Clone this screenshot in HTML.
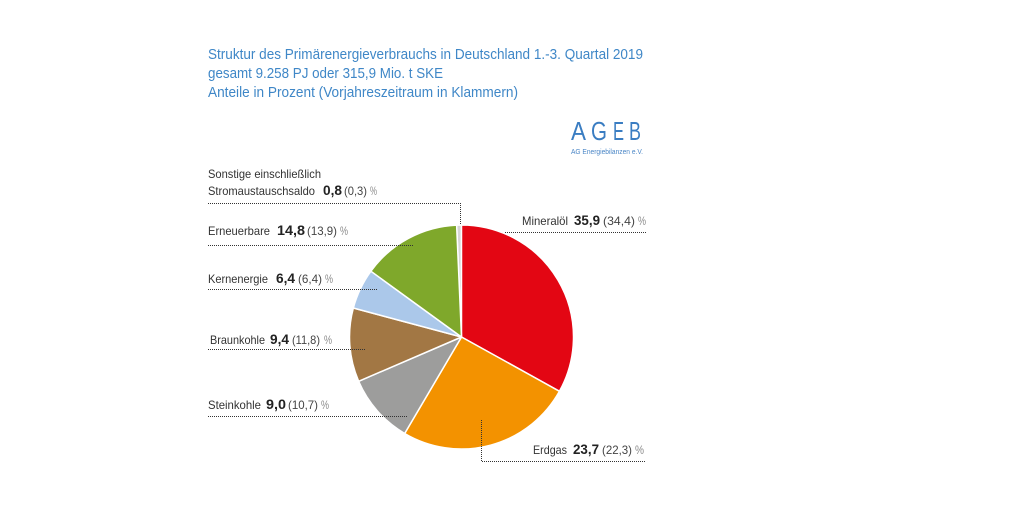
<!DOCTYPE html>
<html><head><meta charset="utf-8"><style>
html,body{margin:0;padding:0;background:#fff;}
svg{display:block;}
text{font-family:"Liberation Sans",sans-serif;}
.t{font-size:14.5px;fill:#3f87c7;}
.l{font-size:12px;fill:#333;}
.b{font-size:14px;font-weight:bold;fill:#222;}
.p{font-size:12px;fill:#444;}
.pc{font-size:12px;fill:#8a8a8a;}
.d{stroke:#333;stroke-width:1;stroke-dasharray:1 1;fill:none;}
.g{font-size:26px;fill:#3a7dc2;}
</style></head><body>
<svg width="1024" height="512" viewBox="0 0 1024 512" xmlns="http://www.w3.org/2000/svg">
<rect width="1024" height="512" fill="#fff"/>
<!-- titles -->
<text class="t" x="208" y="59" textLength="435" lengthAdjust="spacingAndGlyphs">Struktur des Primärenergieverbrauchs in Deutschland 1.-3. Quartal 2019</text>
<text class="t" x="208" y="78" textLength="235" lengthAdjust="spacingAndGlyphs">gesamt 9.258 PJ oder 315,9 Mio. t SKE</text>
<text class="t" x="208" y="97" textLength="310" lengthAdjust="spacingAndGlyphs">Anteile in Prozent (Vorjahreszeitraum in Klammern)</text>
<!-- logo -->
<text class="g" x="571" y="140" textLength="15" lengthAdjust="spacingAndGlyphs">A</text>
<text class="g" x="591" y="140" textLength="16" lengthAdjust="spacingAndGlyphs">G</text>
<text class="g" x="613" y="140" textLength="11" lengthAdjust="spacingAndGlyphs">E</text>
<text class="g" x="629" y="140" textLength="12" lengthAdjust="spacingAndGlyphs">B</text>
<text x="571" y="154" font-size="7" fill="#4a86c6" textLength="72" lengthAdjust="spacingAndGlyphs">AG Energiebilanzen e.V.</text>
<!-- pie -->
<g stroke="#fff" stroke-width="1.5" stroke-linejoin="round">
<path d="M461.5,337 L456.62,225.11 A112,112 0 0 1 461.5,225 Z" fill="#d6d6d6"/>
<path d="M461.5,337 L461.5,225 A112,112 0 0 1 559.46,391.3 Z" fill="#e30613"/>
<path d="M461.5,337 L559.46,391.3 A112,112 0 0 1 404.66,433.5 Z" fill="#f39200"/>
<path d="M461.5,337 L404.66,433.5 A112,112 0 0 1 358.64,381.3 Z" fill="#9d9d9c"/>
<path d="M461.5,337 L358.64,381.3 A112,112 0 0 1 353.32,308.01 Z" fill="#a27744"/>
<path d="M461.5,337 L353.32,308.01 A112,112 0 0 1 370.89,271.17 Z" fill="#abc8ea"/>
<path d="M461.5,337 L370.89,271.17 A112,112 0 0 1 456.62,225.11 Z" fill="#7fa82b"/>
</g>
<!-- leader lines -->
<path class="d" d="M208,203.5 H460.5 V225"/>
<path class="d" d="M505,232.5 H646"/>
<path class="d" d="M208,245.5 H413"/>
<path class="d" d="M208,289.5 H377"/>
<path class="d" d="M208,349.5 H366"/>
<path class="d" d="M208,416.5 H407"/>
<path class="d" d="M481.5,420 V461.5 H646"/>
<!-- labels -->
<text class="l" x="208" y="178" textLength="113" lengthAdjust="spacingAndGlyphs">Sonstige einschließlich</text>
<text class="l" x="208" y="195" textLength="107" lengthAdjust="spacingAndGlyphs">Stromaustauschsaldo</text>
<text class="b" x="323" y="195" textLength="19" lengthAdjust="spacingAndGlyphs">0,8</text>
<text class="p" x="344" y="195" textLength="23" lengthAdjust="spacingAndGlyphs">(0,3)</text>
<text class="pc" x="370" y="195" textLength="7" lengthAdjust="spacingAndGlyphs">%</text>

<text class="l" x="208" y="235" textLength="62" lengthAdjust="spacingAndGlyphs">Erneuerbare</text>
<text class="b" x="277" y="235" textLength="28" lengthAdjust="spacingAndGlyphs">14,8</text>
<text class="p" x="307" y="235" textLength="30" lengthAdjust="spacingAndGlyphs">(13,9)</text>
<text class="pc" x="340" y="235" textLength="8" lengthAdjust="spacingAndGlyphs">%</text>

<text class="l" x="522" y="225" textLength="46" lengthAdjust="spacingAndGlyphs">Mineralöl</text>
<text class="b" x="574" y="225" textLength="26" lengthAdjust="spacingAndGlyphs">35,9</text>
<text class="p" x="603" y="225" textLength="32" lengthAdjust="spacingAndGlyphs">(34,4)</text>
<text class="pc" x="638" y="225" textLength="8" lengthAdjust="spacingAndGlyphs">%</text>

<text class="l" x="208" y="283" textLength="60" lengthAdjust="spacingAndGlyphs">Kernenergie</text>
<text class="b" x="276" y="283" textLength="19" lengthAdjust="spacingAndGlyphs">6,4</text>
<text class="p" x="298" y="283" textLength="24" lengthAdjust="spacingAndGlyphs">(6,4)</text>
<text class="pc" x="325" y="283" textLength="8" lengthAdjust="spacingAndGlyphs">%</text>

<text class="l" x="210" y="344" textLength="55" lengthAdjust="spacingAndGlyphs">Braunkohle</text>
<text class="b" x="270" y="344" textLength="19" lengthAdjust="spacingAndGlyphs">9,4</text>
<text class="p" x="292" y="344" textLength="28" lengthAdjust="spacingAndGlyphs">(11,8)</text>
<text class="pc" x="324" y="344" textLength="8" lengthAdjust="spacingAndGlyphs">%</text>

<text class="l" x="208" y="409" textLength="53" lengthAdjust="spacingAndGlyphs">Steinkohle</text>
<text class="b" x="266" y="409" textLength="20" lengthAdjust="spacingAndGlyphs">9,0</text>
<text class="p" x="288" y="409" textLength="30" lengthAdjust="spacingAndGlyphs">(10,7)</text>
<text class="pc" x="321" y="409" textLength="8" lengthAdjust="spacingAndGlyphs">%</text>

<text class="l" x="533" y="454" textLength="34" lengthAdjust="spacingAndGlyphs">Erdgas</text>
<text class="b" x="573" y="454" textLength="26" lengthAdjust="spacingAndGlyphs">23,7</text>
<text class="p" x="602" y="454" textLength="30" lengthAdjust="spacingAndGlyphs">(22,3)</text>
<text class="pc" x="635" y="454" textLength="9" lengthAdjust="spacingAndGlyphs">%</text>
</svg>
</body></html>
